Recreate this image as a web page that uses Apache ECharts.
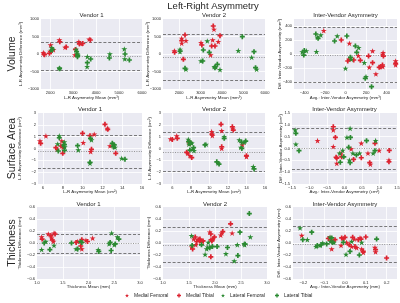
<!DOCTYPE html>
<html><head><meta charset="utf-8">
<script src="https://cdn.jsdelivr.net/npm/echarts@6/dist/echarts.min.js"></script>
<style>html,body{margin:0;padding:0;background:#fff}#c{width:400px;height:303px}</style>
</head><body><div id="c"></div>
<script>
// ---------- DATA ----------
const categories = ['Medial Femoral', 'Medial Tibial', 'Lateral Femoral', 'Lateral Tibial'];

// Volume – Vendor 1
const vol1_MF = [[1700,40],[2020,257],[2000,70],[2400,400],[2650,190],[3080,-30],[3250,350],[3330,290],[3700,420],[2140,120]];
const vol1_MT = [[1730,0],[1750,-20],[1970,20],[2070,100],[2420,350],[2700,200],[3100,130],[3270,290],[3420,300],[3750,400]];
const vol1_LF = [[2070,180],[2050,100],[2400,-400],[3130,133],[3180,0],[3620,-76],[3610,-362],[4600,0],[5230,143],[5250,-143]];
const vol1_LT = [[2100,130],[2410,-420],[3150,67],[3200,-30],[3190,-76],[3620,-248],[3765,-143],[4580,-114],[5260,0],[5450,-171]];
const vol1_lines = [-60, 335, -455];
// Volume – Vendor 2
const vol2_MF = [[1780,90],[2120,448],[2120,305],[2320,381],[3020,324],[3470,-29],[3562,400],[3625,705],[3825,352]];
const vol2_MT = [[1790,50],[2120,381],[2275,543],[2200,-152],[3060,257],[3516,229],[3590,800],[3671,229],[3904,524]];
const vol2_LF = [[2042,133],[2042,67],[2320,-438],[3020,-200],[3313,371],[3640,-362],[3700,-370],[3904,-448],[4758,95],[5380,-95],[5610,-438]];
const vol2_LT = [[2050,86],[2275,-410],[3127,114],[3100,-200],[3406,48],[3670,-390],[3780,-295],[4944,495],[5488,67],[5560,-390]];
const vol2_lines = [-90, 571, -752];
// Volume – Inter-Vendor
const volI_MF = [[-211,333],[38,152],[32,-76],[125,-24],[231,-190],[263,43],[295,-286],[359,-5],[365,19],[362,-181],[487,-100],[487,-157]];
const volI_MT = [[-41,200],[22,-100],[80,-86],[144,-90],[224,-29],[263,-124],[327,-190],[368,-29],[359,-157],[343,-181],[487,-133]];
const volI_LF = [[-420,30],[-380,45],[-282,33],[-272,238],[-240,271],[-80,257],[0,-205],[55,-76],[128,90],[183,-124],[199,-324]];
const volI_LT = [[-400,50],[-405,-15],[-288,286],[-266,224],[-106,186],[13,257],[48,-48],[96,114],[109,24],[192,-348],[253,-467]];
const volI_lines = [-15, 380, -410];

// Surface area – Vendor 1
const sa1_MF = [[5.7,0.63],[6.3,1.06],[7.45,-0.07],[7.9,0.63],[8.05,0.1],[10.07,0.49],[10.82,-0.27],[11.18,1.2],[12.5,1.7],[12.77,0.21]];
const sa1_MT = [[5.77,0.44],[7.3,0.07],[7.82,0.21],[8.0,-0.41],[10.0,1.28],[10.75,1.08],[10.9,-0.07],[12.26,2.04],[12.54,1.62],[13.35,-0.41]];
const sa1_LF = [[7.65,1.06],[7.49,0.38],[8.15,0.55],[8.2,0.13],[8.05,0.27],[9.57,-0.13],[10.9,0.72],[10.75,-1.25],[13.1,0.35],[13.28,0.1],[13.95,-0.83]];
const sa1_LT = [[7.65,0.91],[7.55,-0.21],[8.17,0.32],[8.17,-0.15],[9.5,0.24],[10.8,0.86],[10.75,-1.17],[13.0,0.44],[13.2,0.3],[13.1,0.15],[14.28,-0.91]];
const sa1_lines = [-0.27, 1.1, -1.65];
// Surface area – Vendor 2
const sa2_MF = [[5.83,0.8],[6.48,1.06],[7.84,0.44],[7.66,-0.41],[7.9,-0.61],[10.25,1.42],[10.32,1.08],[11.33,1.5],[11.33,0.01],[12.53,1.7],[13.56,0.3],[14.0,-0.69]];
const sa2_MT = [[6.0,0.77],[6.54,0.86],[7.55,-0.32],[7.9,0.49],[8.1,-0.77],[10.28,1.22],[11.26,2.04],[11.33,0.15],[12.48,1.84],[12.58,1.56],[14.0,-0.61]];
const sa2_LF = [[7.73,0.77],[7.8,0.35],[8.1,0.44],[8.2,-0.07],[8.35,-0.18],[9.64,0.35],[10.95,-1.25],[11.6,1.0],[13.23,0.72],[13.77,0.52],[13.4,0.1],[14.74,-1.54]];
const sa2_LT = [[7.76,0.58],[8.0,0.49],[7.9,-0.13],[8.3,0.07],[9.53,0.3],[10.8,-1.13],[11.04,-1.32],[11.6,0.86],[13.48,0.52],[13.92,0.63],[13.5,0.01],[14.82,-1.73]];
const sa2_lines = [-0.3, 1.37, -1.96];
// Surface area – Inter-Vendor
const saI_MF = [[-0.77,0.33],[-0.32,0.78],[-0.32,0.08],[-0.22,-0.63],[-0.1,-0.2],[0.19,-0.02],[0.48,0.22],[0.67,-0.2],[0.74,-0.67],[0.99,-0.08],[1.27,-0.49]];
const saI_MT = [[-0.32,0.92],[-0.26,0.47],[-0.24,-0.37],[-0.22,-0.41],[-0.08,-0.35],[0.26,-0.46],[0.48,-0.39],[0.72,-0.6],[0.87,0.22],[1.28,-0.08],[1.27,-0.56]];
const saI_LF = [[-1.41,0.78],[-1.39,0.18],[-0.14,-0.2],[-0.05,-0.08],[0.07,0.47],[0.16,0.85],[0.14,-0.49],[0.24,-0.2],[0.43,-0.2],[0.82,-0.2],[0.89,0.33]];
const saI_LT = [[-1.39,0.64],[-1.30,-0.09],[-0.12,-0.58],[-0.02,-0.35],[0.12,0.05],[0.17,0.47],[0.16,-0.6],[0.34,-0.27],[0.63,0.33],[0.87,-0.09]];
const saI_lines = [-0.01, 0.85, -0.87];

// Thickness – Vendor 1
const th1_MF = [[1.09,0.1],[1.22,0.15],[1.28,0.08],[1.33,0.165],[1.32,0.025],[1.79,0.025],[1.87,-0.1],[1.95,0.045],[2.08,0.08]];
const th1_MT = [[1.1,0.065],[1.27,0.12],[1.3,0.05],[1.35,0.15],[1.76,0.01],[1.85,-0.05],[1.87,0.055],[1.98,0.025]];
const th1_LF = [[1.09,-0.11],[1.17,0.025],[1.33,-0.04],[1.76,-0.1],[1.84,0.025],[2.19,-0.11],[2.4,-0.015],[2.45,0.165],[2.5,-0.03],[2.56,0.1]];
const th1_LT = [[1.14,0],[1.25,-0.11],[1.67,0],[1.79,-0.1],[1.87,0.01],[2.2,-0.14],[2.42,0.01],[2.44,-0.125],[2.52,-0.015],[2.59,0.065]];
const th1_lines = [-0.01, 0.15, -0.165];
// Thickness – Vendor 2
const th2_MF = [[1.55,-0.07],[1.59,0.065],[1.63,-0.03],[1.68,0.065],[1.72,0.025],[1.76,0.025],[1.9,0.18],[1.92,0.055],[1.95,0.065],[1.97,0.08],[2.13,0.165],[2.11,0.13],[2.33,0.165]];
const th2_MT = [[1.57,-0.1],[1.62,0.1],[1.65,0.025],[1.7,0.045],[1.71,0.065],[1.77,0.035],[1.92,0.15],[1.94,0.035],[1.92,-0.23],[1.99,0.1],[2.15,0.19],[2.3,0.32]];
const th2_LF = [[1.55,0.12],[1.81,-0.19],[1.86,-0.07],[1.84,-0.1],[1.87,0.01],[2.21,-0.18],[2.37,-0.3],[2.43,-0.03],[2.56,-0.01],[2.57,-0.03],[2.68,0.1]];
const th2_LT = [[1.56,-0.04],[1.74,-0.03],[1.9,-0.08],[1.95,-0.06],[2.04,-0.06],[2.24,-0.075],[2.48,0.18],[2.44,-0.21],[2.58,-0.02],[2.66,0.49]];
const th2_lines = [-0.03, 0.26, -0.32];
// Thickness – Inter-Vendor
const thI_MF = [[-0.208,0.125],[-0.072,0.085],[-0.064,-0.1],[-0.019,-0.04],[-0.008,0.075],[0.008,0.01],[0.032,-0.06],[0.045,0.065],[0.056,-0.08],[0.072,0.085],[0.08,-0.1],[0.088,-0.16],[0.144,-0.075],[0.147,-0.15]];
const thI_MT = [[-0.08,0.075],[-0.064,0.035],[-0.048,0.055],[-0.016,0.085],[0.0,0.095],[0.02,-0.03],[0.037,0.095],[0.048,-0.06],[0.064,0.055],[0.077,0.065],[0.088,-0.14],[0.1,0.1],[0.147,-0.11],[0.2,-0.25]];
const thI_LF = [[-0.216,0.25],[-0.181,0.055],[-0.139,-0.06],[-0.12,-0.04],[-0.107,0],[-0.072,0.095],[-0.07,0.025],[-0.053,0.01],[0.005,-0.19],[0.032,0.025],[0.08,0.01]];
const thI_LT = [[-0.203,0.055],[-0.16,0.18],[-0.133,-0.04],[-0.115,-0.03],[-0.088,-0.015],[-0.064,0.085],[-0.06,0.01],[-0.008,0.01],[0.024,-0.14],[0.069,-0.2],[0.152,0.065]];
const thI_lines = [-0.02, 0.276, -0.32];

// Axis extents and tick labels
const vol1_xRange = [1600, 6000], vol1_xTicks = [2000, 3000, 4000, 5000, 6000];
const vol2_xRange = [1250, 6000], vol2_xTicks = [2000, 3000, 4000, 5000, 6000];
const volI_xRange = [-500, 500],  volI_xTicks = [-400, -200, 0, 200, 400];
const vol_yRange = [-1000, 1000], vol_yTicks = [-1000, -500, 0, 500, 1000];
const volI_yRange = [-500, 500],  volI_yTicks = [-400, -200, 0, 200, 400];
const sa1_xRange = [5.5, 16], sa2_xRange = [5, 16], sa_xTicks = [6, 8, 10, 12, 14, 16];
const sa_yRange = [-3, 3], sa_yTicks = [-3, -2, -1, 0, 1, 2, 3];
const saI_xRange = [-1.5, 1.5], saI_xTicks = [-1.5, -1.0, -0.5, 0, 0.5, 1.0, 1.5];
const saI_yRange = [-1.5, 1.5], saI_yTicks = [-1.5, -1.0, -0.5, 0, 0.5, 1.0, 1.5];
const th_xRange = [1, 3], th_xTicks = [1.0, 1.5, 2.0, 2.5, 3.0];
const thI_xRange = [-0.25, 0.25], thI_xTicks = [-0.2, -0.1, 0, 0.1, 0.2];
const th_yRange = [-0.6, 0.6], th_yTicks = [-0.6, -0.4, -0.2, 0, 0.2, 0.4, 0.6];

// ---------- LAYOUT / STYLE ----------
const F = "'Liberation Sans', Arial, sans-serif";
const TXT = '#262626';
const RED = '#dc2330', GREEN = '#2b8a32';
const STAR = 'path://M50,0L61.2,34.5L97.6,34.5L68.2,55.9L79.4,90.5L50,69.1L20.6,90.5L31.8,55.9L2.4,34.5L38.8,34.5Z';
const PLUS = 'path://M33,0H67V33H100V67H67V100H33V67H0V33H33Z';
const catStyle = [
  {color: RED, symbol: STAR, size: 6},
  {color: RED, symbol: PLUS, size: 5},
  {color: GREEN, symbol: STAR, size: 6},
  {color: GREEN, symbol: PLUS, size: 5}
];

const panels = [
  {g:{left:41,top:19,width:101,height:70}, title:'Vendor 1', ser:[vol1_MF,vol1_MT,vol1_LF,vol1_LT], lines:vol1_lines,
   xr:vol1_xRange, xt:vol1_xTicks, yr:vol_yRange, yt:vol_yTicks, xd:0, yd:0,
   xn:'L-R Asymmetry Mean (mm\u00b3)', yn:'L-R Asymmetry Difference (mm\u00b3)', xg:7, yg:18, ty:15.7},
  {g:{left:163,top:19,width:102,height:70}, title:'Vendor 2', ser:[vol2_MF,vol2_MT,vol2_LF,vol2_LT], lines:vol2_lines,
   xr:vol2_xRange, xt:vol2_xTicks, yr:vol_yRange, yt:vol_yTicks, xd:0, yd:0,
   xn:'L-R Asymmetry Mean (mm\u00b3)', yn:'L-R Asymmetry Difference (mm\u00b3)', xg:7, yg:13, ty:15.7},
  {g:{left:294,top:19,width:103,height:70}, title:'Inter-Vendor Asymmetry', ser:[volI_MF,volI_MT,volI_LF,volI_LT], lines:volI_lines,
   xr:volI_xRange, xt:volI_xTicks, yr:volI_yRange, yt:volI_yTicks, xd:0, yd:0,
   xn:'Avg.: Inter-Vendor Asymmetry (mm\u00b3)', yn:'Diff.: Inter-Vendor Asymmetry (mm\u00b3)', xg:6.5, yg:12, ty:15.7},
  {g:{left:38,top:113,width:104,height:71}, title:'Vendor 1', ser:[sa1_MF,sa1_MT,sa1_LF,sa1_LT], lines:sa1_lines,
   xr:sa1_xRange, xt:sa_xTicks, yr:sa_yRange, yt:sa_yTicks, xd:0, yd:0,
   xn:'L-R Asymmetry Mean (cm\u00b2)', yn:'L-R Asymmetry Difference (cm\u00b2)', xg:5.5, yg:16, ty:109.5},
  {g:{left:163,top:113,width:102,height:71}, title:'Vendor 2', ser:[sa2_MF,sa2_MT,sa2_LF,sa2_LT], lines:sa2_lines,
   xr:sa2_xRange, xt:sa_xTicks, yr:sa_yRange, yt:sa_yTicks, xd:0, yd:0,
   xn:'L-R Asymmetry Mean (cm\u00b2)', yn:'L-R Asymmetry Difference (cm\u00b2)', xg:5.5, yg:11, ty:109.5},
  {g:{left:292,top:113,width:105,height:71}, title:'Inter-Vendor Asymmetry', ser:[saI_MF,saI_MT,saI_LF,saI_LT], lines:saI_lines,
   xr:saI_xRange, xt:saI_xTicks, yr:saI_yRange, yt:saI_yTicks, xd:1, yd:1,
   xn:'Avg.: Inter-Vendor Asymmetry (cm\u00b2)', yn:'Diff.: Inter-Vendor Asymmetry (cm\u00b2)', xg:5.5, yg:9.5, ty:109.5},
  {g:{left:37,top:207,width:103,height:72}, title:'Vendor 1', ser:[th1_MF,th1_MT,th1_LF,th1_LT], lines:th1_lines,
   xr:th_xRange, xt:th_xTicks, yr:th_yRange, yt:th_yTicks, xd:1, yd:1,
   xn:'Thickness Mean (mm)', yn:'Thickness Difference (mm)', xg:6, yg:15, ty:204},
  {g:{left:163,top:207,width:104,height:72}, title:'Vendor 2', ser:[th2_MF,th2_MT,th2_LF,th2_LT], lines:th2_lines,
   xr:th_xRange, xt:th_xTicks, yr:th_yRange, yt:th_yTicks, xd:1, yd:1,
   xn:'Thickness Mean (mm)', yn:'Thickness Difference (mm)', xg:6, yg:12, ty:204},
  {g:{left:293,top:207,width:104,height:72}, title:'Inter-Vendor Asymmetry', ser:[thI_MF,thI_MT,thI_LF,thI_LT], lines:thI_lines,
   xr:thI_xRange, xt:thI_xTicks, yr:th_yRange, yt:th_yTicks, xd:1, yd:1,
   xn:'Avg.: Inter-Vendor Asymmetry (mm)', yn:'Diff.: Inter-Vendor Asymmetry (mm)', xg:6, yg:12, ty:204}
];

function fmt(dec) {
  return function (v) {
    if (Math.abs(v) < 1e-9) v = 0;
    return v.toFixed(dec).replace('-', '\u2212');
  };
}

function makeAxis(i, range, ticks, dec, name, gap, isX) {
  const step = +(ticks[1] - ticks[0]).toFixed(10);
  const q = range[0] / step;
  const onTick = Math.abs(q - Math.round(q)) < 1e-6;
  const ax = {
    type: 'value', gridIndex: i, min: range[0], max: range[1],
    name: name, nameLocation: 'middle', nameGap: gap, nameMoveOverlap: false,
    nameTextStyle: {fontFamily: F, fontSize: 4.4, color: TXT},
    axisLine: {show: false}, axisTick: {show: false},
    axisLabel: {customValues: ticks, formatter: fmt(dec), fontFamily: F, fontSize: 4, color: TXT,
                margin: isX ? 1.5 : 2, hideOverlap: false},
    splitLine: {show: true, showMinLine: false, showMaxLine: false, lineStyle: {color: '#ffffff', width: 0.8}}
  };
  if (onTick) { ax.interval = step; }
  else { ax.minInterval = step; ax.maxInterval = step; ax.splitNumber = Math.round((range[1] - range[0]) / step); }
  return ax;
}

const grid = [], xAxis = [], yAxis = [], series = [], graphic = [];
panels.forEach(function (p, i) {
  grid.push(Object.assign({show: true, backgroundColor: '#EAEAF2', borderWidth: 0, containLabel: false, outerBoundsMode: 'none'}, p.g));
  xAxis.push(makeAxis(i, p.xr, p.xt, p.xd, p.xn, p.xg, true));
  yAxis.push(makeAxis(i, p.yr, p.yt, p.yd, p.yn, p.yg, false));
  p.ser.forEach(function (d, k) {
    const cs = catStyle[k];
    const s = {
      type: 'scatter', name: categories[k], xAxisIndex: i, yAxisIndex: i, data: d,
      symbol: cs.symbol, symbolSize: cs.size, symbolKeepAspect: true,
      itemStyle: {color: cs.color, opacity: 1}, z: 3, silent: true
    };
    if (k === 0) {
      s.markLine = {
        silent: true, symbol: ['none', 'none'], label: {show: false}, animation: false, z: 2,
        data: [
          {yAxis: p.lines[0], lineStyle: {type: [1, 1.4], color: '#8c8c8c', width: 0.9}},
          {yAxis: p.lines[1], lineStyle: {type: [3, 1.8], color: '#5a5a5a', width: 0.8}},
          {yAxis: p.lines[2], lineStyle: {type: [3, 1.8], color: '#5a5a5a', width: 0.8}}
        ]
      };
    }
    series.push(s);
  });
  graphic.push({type: 'text', x: p.g.left + p.g.width / 2, y: p.ty, silent: true,
    style: {text: p.title, fill: TXT, font: '6px ' + F, align: 'center', verticalAlign: 'middle'}});
});

// Main title and row labels
graphic.push({type: 'text', x: 213, y: 6.5, silent: true,
  style: {text: 'Left-Right Asymmetry', fill: TXT, font: '9.5px ' + F, align: 'center', verticalAlign: 'middle'}});
[['Volume', 54], ['Surface Area', 148.5], ['Thickness', 243]].forEach(function (r) {
  graphic.push({type: 'text', x: 12, y: r[1], rotation: Math.PI / 2, silent: true,
    style: {text: r[0], fill: TXT, font: '10.5px ' + F, align: 'center', verticalAlign: 'middle'}});
});

const legendLeft = [125, 177, 221, 275];
const legend = categories.map(function (c, k) {
  return {data: [c], left: legendLeft[k], top: 293, padding: 0, itemWidth: 4, itemHeight: 4,
    selectedMode: false, textStyle: {fontFamily: F, fontSize: 5, color: TXT}};
});

const chart = echarts.init(document.getElementById('c'), null, {renderer: 'canvas'});
chart.setOption({
  animation: false, backgroundColor: '#ffffff',
  grid: grid, xAxis: xAxis, yAxis: yAxis, series: series, graphic: graphic, legend: legend
});
</script></body></html>
